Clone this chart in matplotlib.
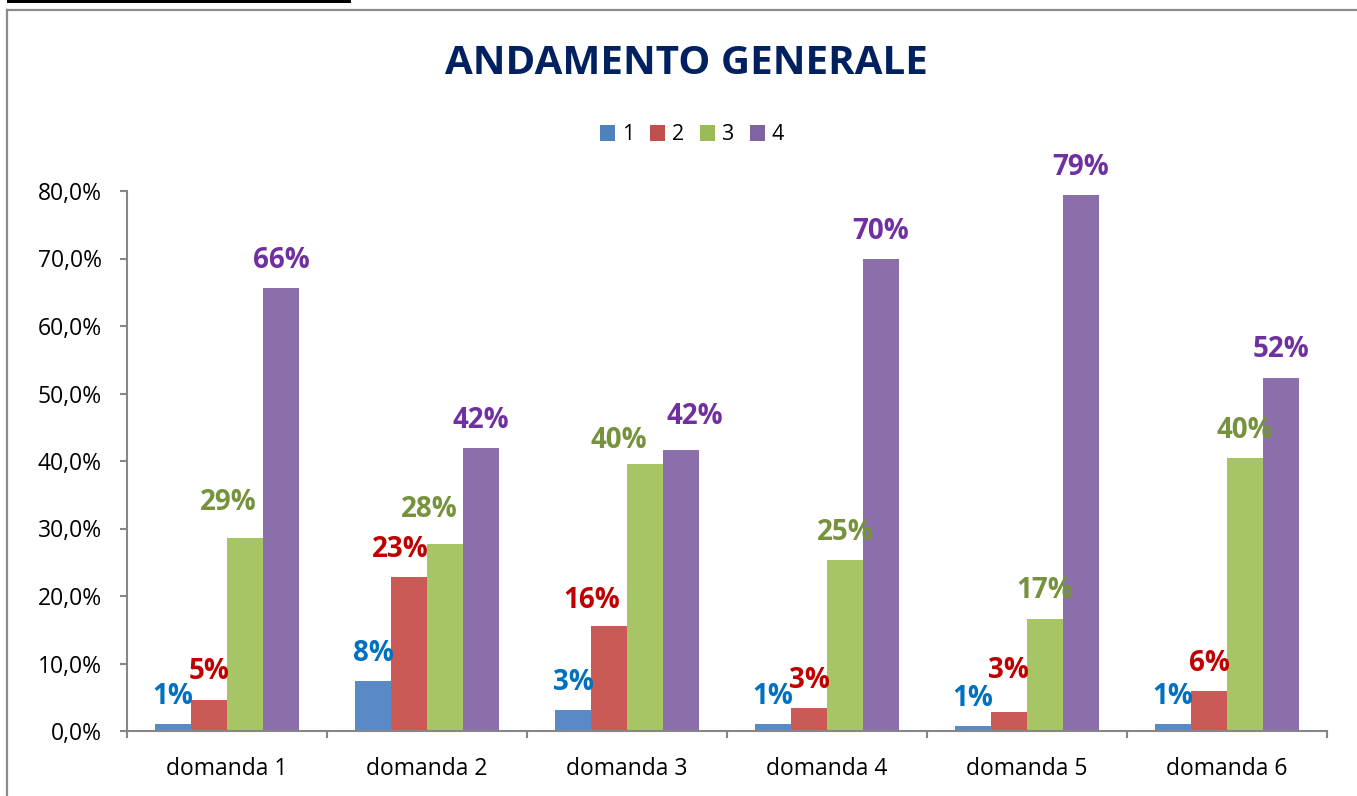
import matplotlib
matplotlib.use("Agg")
import matplotlib.pyplot as plt
from matplotlib.patches import Rectangle, Patch
from matplotlib.lines import Line2D
import numpy as np

plt.rcParams['font.family'] = ['Open Sans', 'DejaVu Sans']

categories = ["domanda 1", "domanda 2", "domanda 3", "domanda 4", "domanda 5", "domanda 6"]
series_names = ["1", "2", "3", "4"]
s1 = [1.0, 7.4, 3.1, 1.0, 0.7, 1.0]
s2 = [4.6, 22.8, 15.6, 3.4, 2.8, 5.9]
s3 = [28.6, 27.7, 39.6, 25.3, 16.6, 40.4]
s4 = [65.6, 41.9, 41.6, 69.9, 79.4, 52.3]
label_texts = [
    ["1%", "8%", "3%", "1%", "1%", "1%"],
    ["5%", "23%", "16%", "3%", "3%", "6%"],
    ["29%", "28%", "40%", "25%", "17%", "40%"],
    ["66%", "42%", "42%", "70%", "79%", "52%"],
]
yticks = [0, 10, 20, 30, 40, 50, 60, 70, 80]

bar_colors = ["#5A8AC6", "#CB5A56", "#A7C564", "#8A6FAB"]
legend_colors = ["#4F81BD", "#C0504D", "#9BBB59", "#8064A2"]
label_colors = ["#0070C0", "#C00000", "#76923C", "#7030A0"]
# label nudges in pixels (dx, dy) relative to default placement
nudges = {
    (2, 0): (-17, 7), (2, 1): (-16, 7), (1, 1): (-9, 0),
    (1, 2): (-17, -3), (2, 2): (-26, -5), (3, 2): (14, 6),
    (1, 4): (-1, 14),
}

W, H = 1357, 796
fig = plt.figure(figsize=(W / 100, H / 100), dpi=100)
fig.patch.set_facecolor("white")

def fx(px):
    return px / W

def fy(py):
    return 1 - py / H

ax = fig.add_axes([fx(127), fy(731), fx(1327) - fx(127), fy(191) - fy(731)])

series = [s1, s2, s3, s4]
x = np.arange(len(categories))
bw = 0.18
for i, vals in enumerate(series):
    offs = (i - 1.5) * bw
    ax.bar(x + offs, vals, width=bw, color=bar_colors[i], edgecolor="none", zorder=2)
    for j, v in enumerate(vals):
        dx, dy = nudges.get((i, j), (0, 0))
        ax.annotate(label_texts[i][j], xy=(x[j] + offs, v), xytext=(dx, 28 + dy),
                    textcoords="offset pixels", ha="center", va="center",
                    fontsize=20, fontweight="bold", color=label_colors[i],
                    annotation_clip=False, zorder=3)

ax.set_xlim(-0.5, len(categories) - 0.5)
ax.set_ylim(0, 80)
ax.set_yticks(yticks)
ax.set_yticklabels([("%.1f%%" % t).replace(".", ",") for t in yticks])
ax.set_xticks(np.arange(len(categories) + 1) - 0.5)
ax.set_xticklabels([])
ax.set_xticks(x, minor=True)
ax.set_xticklabels(categories, minor=True)
ax.tick_params(axis="x", which="minor", length=0, pad=19, labelsize=16.5, labelcolor="black")
ax.tick_params(axis="x", which="major", length=5, width=1.5, color="#868686", direction="out")
ax.tick_params(axis="y", length=5, width=1.5, color="#868686", pad=13, labelsize=16.5, labelcolor="black")
for s in ["top", "right"]:
    ax.spines[s].set_visible(False)
for s in ["left", "bottom"]:
    ax.spines[s].set_color("#868686")
    ax.spines[s].set_linewidth(1.5)

fig.text(fx(686), fy(64), "ANDAMENTO GENERALE", ha="center", va="center",
         fontsize=29, fontweight="bold", color="#002060")

handles = [Patch(facecolor=c, edgecolor="none") for c in legend_colors]
fig.legend(handles, series_names, loc="center", bbox_to_anchor=(fx(692), fy(135)),
           ncol=4, frameon=False, fontsize=15.5, handlelength=0.7, handleheight=0.7,
           handletextpad=0.3, columnspacing=0.75)

# chart frame
fig.add_artist(Line2D([fx(7), fx(7)], [fy(10), 0], transform=fig.transFigure,
                      color="#8C8C8C", linewidth=1.6))
fig.add_artist(Line2D([fx(7), 1], [fy(10), fy(10)], transform=fig.transFigure,
                      color="#8C8C8C", linewidth=1.6))
fig.add_artist(Rectangle((fx(7), fy(3)), fx(351) - fx(7), fy(0) - fy(3),
                         transform=fig.transFigure, facecolor="black", edgecolor="none"))

fig.savefig("out.png", dpi=100)
